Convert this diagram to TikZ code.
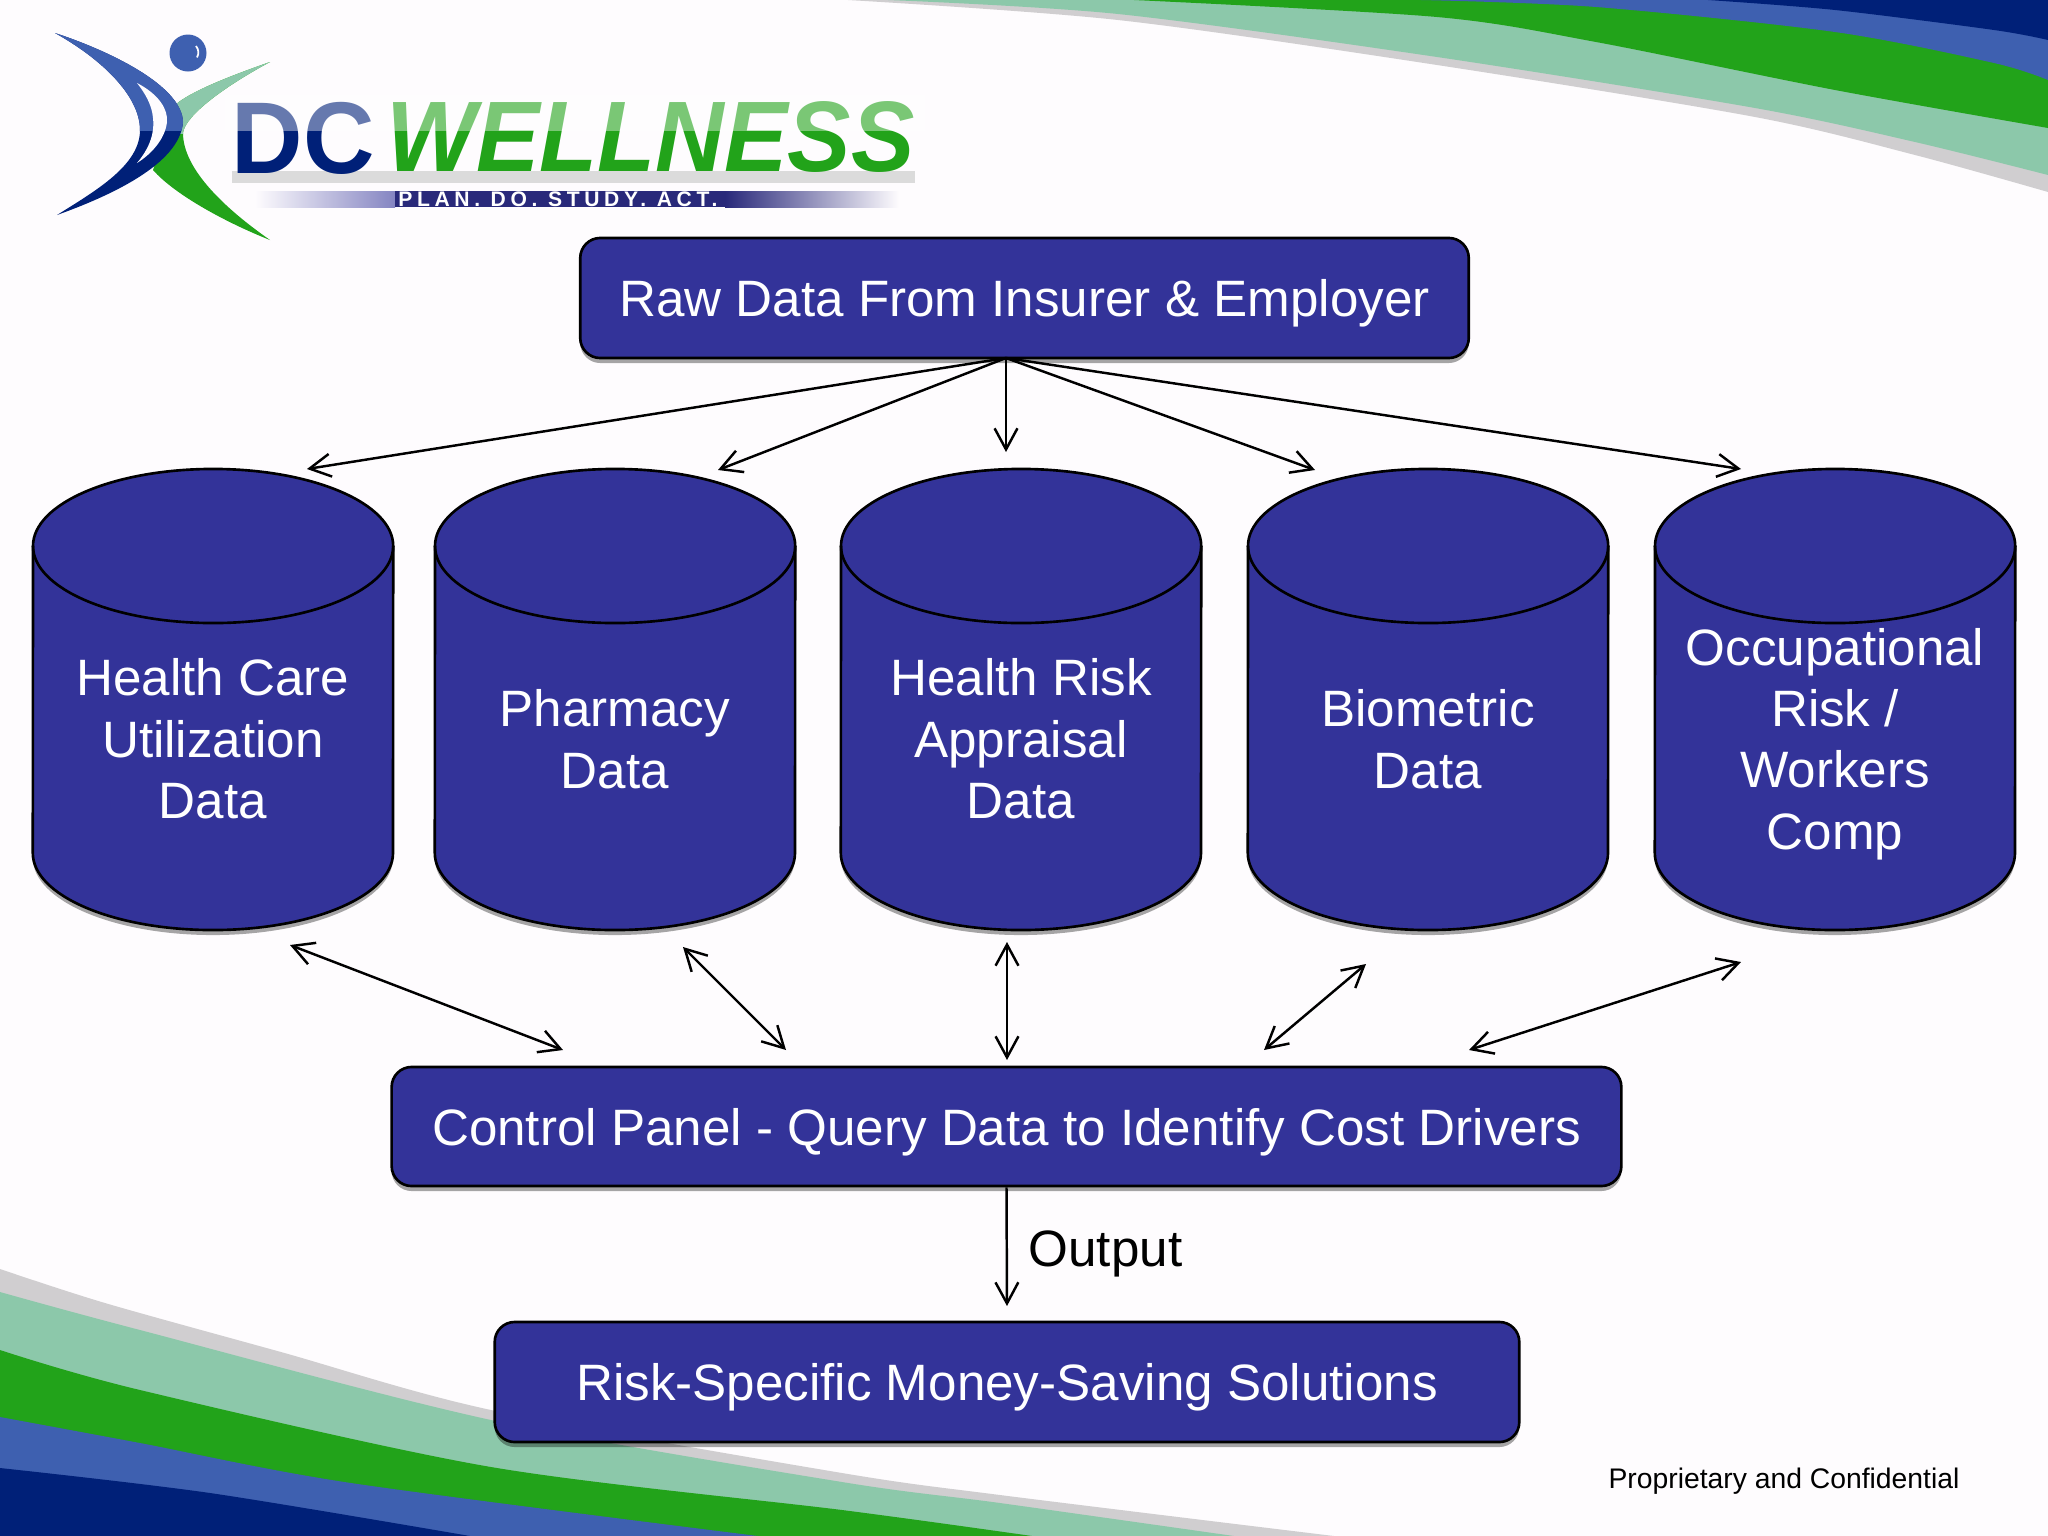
\documentclass[tikz,border=0pt]{standalone}
\usepackage{fontspec}
\setmainfont{Liberation Sans}
\newfontfamily\taglinefont[LetterSpace=22]{Liberation Sans}
\usetikzlibrary{arrows.meta,shadows}

\definecolor{panelblue}{RGB}{51,51,153}
\definecolor{bandnavy}{RGB}{0,32,120}
\definecolor{bandblue}{RGB}{62,96,176}
\definecolor{bandgreen}{RGB}{34,163,26}
\definecolor{bandmint}{RGB}{140,200,170}
\definecolor{bandgrey}{RGB}{208,206,208}
\definecolor{pagetint}{RGB}{254,252,254}

\newcommand{\bluecrescent}{(55, 33) .. controls (107, 50) and (182, 85) .. (183, 122) .. controls (180, 165) and (107, 197) .. (57, 215) .. controls (97, 190) and (140, 165) .. (140, 130) .. controls (140, 95) and (100, 58) .. (55, 33) -- cycle}
\newcommand{\greencrescent}{(270, 62) .. controls (227, 77) and (190, 92) .. (175, 105) -- (153, 170) .. controls (175, 195) and (227, 223) .. (270, 240) .. controls (227, 210) and (183, 170) .. (183, 133) .. controls (185, 115) and (227, 85) .. (270, 62) -- cycle}

\tikzset{
	boxshadow/.style={drop shadow={shadow xshift=0cm, shadow yshift=-0.05cm, opacity=0.35, fill=black}},
	panel/.style={draw=black, fill=panelblue, text=white, line width=0.75pt, rounded corners=0.2cm, inner sep=0pt, text depth=0pt, font=\fontsize{14.55}{17.5}\selectfont, boxshadow},
	storetext/.style={text=white, inner sep=0pt, align=center, font=\fontsize{14.55}{17.47}\selectfont},
	link/.style={draw=black, line width=0.7pt, -{Straight Barb[length=6pt, width=6.5pt]}},
	linkboth/.style={link, {Straight Barb[length=6pt, width=6.5pt]}-{Straight Barb[length=6pt, width=6.5pt]}},
	pics/drum/.style={code={
		\draw[fill=panelblue, line width=0.75pt, boxshadow] (-180, -153.5) arc[start angle=180, end angle=0, x radius=1.8cm, y radius=0.77cm] -- (180, 153.5) arc[start angle=0, end angle=-180, x radius=1.8cm, y radius=0.77cm] -- cycle;
		\draw[line width=0.75pt] (-180, -153.5) arc[start angle=180, end angle=360, x radius=1.8cm, y radius=0.77cm];
	}}
}

\begin{document}
\begin{tikzpicture}[x=0.01cm, y=-0.01cm]
	\useasboundingbox (0, 0) rectangle (2048, 1536);
	\fill[pagetint] (0, 0) rectangle (2048, 1536);

	\fill[bandgrey] plot[smooth] coordinates {(848, 0) (1118, 20) (1437, 65) (1755, 117) (1915, 155) (2048, 192)} -- (2048, 0) -- cycle;
	\fill[bandmint] plot[smooth] coordinates {(888, 0) (1118, 14) (1437, 57) (1755, 108) (1915, 142) (2048, 175)} -- (2048, 0) -- cycle;
	\fill[bandgreen] plot[smooth] coordinates {(1134, 0) (1437, 17) (1596, 42) (1835, 90) (2048, 128)} -- (2048, 0) -- cycle;
	\fill[bandblue] plot[smooth] coordinates {(1421, 0) (1596, 7) (1835, 32) (1994, 63) (2048, 80)} -- (2048, 0) -- cycle;
	\fill[bandnavy] plot[smooth] coordinates {(1708, 0) (1835, 10) (1994, 30) (2048, 40)} -- (2048, 0) -- cycle;

	\fill[bandgrey] plot[smooth] coordinates {(0, 1269) (105, 1303) (281, 1352) (491, 1410) (842, 1473) (1000, 1495) (1334, 1536)} -- (0, 1536) -- cycle;
	\fill[bandmint] plot[smooth] coordinates {(0, 1292) (140, 1330) (491, 1420) (842, 1482) (1000, 1503) (1234, 1536)} -- (0, 1536) -- cycle;
	\fill[bandgreen] plot[smooth] coordinates {(0, 1350) (140, 1390) (491, 1467) (842, 1510) (1032, 1536)} -- (0, 1536) -- cycle;
	\fill[bandblue] plot[smooth] coordinates {(0, 1417) (140, 1443) (351, 1483) (758, 1536)} -- (0, 1536) -- cycle;
	\fill[bandnavy] plot[smooth] coordinates {(0, 1468) (210, 1493) (470, 1536)} -- (0, 1536) -- cycle;

	\fill[bandgreen] \greencrescent;
	\begin{scope}
		\clip (100, 40) rectangle (290, 133);
		\fill[bandmint] \greencrescent;
	\end{scope}
	\fill[bandnavy] \bluecrescent;
	\begin{scope}
		\clip (40, 20) rectangle (200, 130);
		\fill[bandblue] \bluecrescent;
	\end{scope}
	\fill[pagetint] (137, 83) .. controls (160, 95) and (168, 110) .. (167, 122) .. controls (165, 140) and (150, 155) .. (137, 163) .. controls (148, 150) and (155, 135) .. (153, 118) .. controls (152, 105) and (145, 93) .. (137, 83) -- cycle;
	\fill[bandblue] (188, 53) circle (18.5);
	\draw[pagetint, line width=0.5pt] (196, 46) arc[start angle=40, end angle=-30, radius=0.1cm];

	\fill[black!14] (232, 171) rectangle (915, 183);

	\node[text=bandnavy, font=\fontsize{29}{29}\selectfont\bfseries, anchor=base west, inner sep=0pt] (dctext) at (231, 173) {\scalebox{0.97}[1]{DC}};
	\node[text=bandgreen, font=\fontsize{28.5}{29}\selectfont\bfseries\itshape, anchor=base west, inner sep=0pt] (wellnesstext) at (386, 171) {\scalebox{0.948}[1]{WELLNESS}};
	\fill[white, opacity=0.4] (225, 95) rectangle (925, 131);

	\shade[left color=pagetint, right color=panelblue!60] (255, 191) rectangle (395, 207);
	\fill[panelblue!80!black] (395, 191) rectangle (725, 207);
	\shade[left color=panelblue!80!black, right color=pagetint] (725, 191) rectangle (899, 207);
	\node[text=white, font=\fontsize{6}{6}\taglinefont\bfseries, inner sep=0pt] (tagline) at (558, 199) {PLAN. DO. STUDY. ACT.};

	\node[panel, minimum width=8.88cm, minimum height=1.2cm] (rawdata) at (1024.5, 298) {Raw Data From Insurer \& Employer};

	\pic at (213, 699.5) {drum};
	\pic at (615, 699.5) {drum};
	\pic at (1021, 699.5) {drum};
	\pic at (1428, 699.5) {drum};
	\pic at (1835, 699.5) {drum};

	\node[storetext] (healthcare) at (213, 739) {Health Care\\Utilization\\Data};
	\node[storetext] (pharmacy) at (615, 739) {Pharmacy\\Data};
	\node[storetext] (riskappraisal) at (1021, 739) {Health Risk\\Appraisal\\Data};
	\node[storetext] (biometric) at (1428, 739) {Biometric\\Data};
	\node[storetext] (occupational) at (1835, 744) {Occupational\\Risk /\\Workers\\Comp};

	\node[panel, minimum width=12.29cm, minimum height=1.19cm] (controlpanel) at (1006.5, 1126.5) {Control Panel - Query Data to Identify Cost Drivers};
	\node[panel, minimum width=10.24cm, minimum height=1.2cm] (solutions) at (1007, 1382) {Risk-Specific Money-Saving Solutions};

	\coordinate (rawout) at (1006, 358);
	\coordinate (caretop) at (307, 469);
	\coordinate (pharmacytop) at (718, 470);
	\coordinate (risktop) at (1006, 452);
	\coordinate (biometrictop) at (1315, 470);
	\coordinate (occupationaltop) at (1741, 469);

	\draw[link] (rawout) -- (caretop);
	\draw[link] (rawout) -- (pharmacytop);
	\draw[link] (rawout) -- (risktop);
	\draw[link] (rawout) -- (biometrictop);
	\draw[link] (rawout) -- (occupationaltop);

	\coordinate (carelow) at (290, 945);
	\coordinate (panelone) at (563, 1050);
	\coordinate (pharmacylow) at (683, 947);
	\coordinate (paneltwo) at (786, 1050);
	\coordinate (risklow) at (1007, 942);
	\coordinate (panelthree) at (1007, 1060);
	\coordinate (biometriclow) at (1366, 964);
	\coordinate (panelfour) at (1264, 1050);
	\coordinate (occupationallow) at (1741, 962);
	\coordinate (panelfive) at (1469, 1050);

	\draw[linkboth] (carelow) -- (panelone);
	\draw[linkboth] (pharmacylow) -- (paneltwo);
	\draw[linkboth] (risklow) -- (panelthree);
	\draw[linkboth] (biometriclow) -- (panelfour);
	\draw[linkboth] (occupationallow) -- (panelfive);

	\coordinate (outputtip) at (1007, 1306);
	\draw[link] (controlpanel.south) -- (outputtip);

	\node[anchor=west, inner sep=0pt, text depth=0pt, text=black, font=\fontsize{14.55}{17.5}\selectfont] (outputlabel) at (1028, 1249) {Output};
	\node[text=black, inner sep=0pt, text depth=0pt, font=\fontsize{8.05}{10}\selectfont] (proprietary) at (1784, 1478) {Proprietary and Confidential};
\end{tikzpicture}
\end{document}
